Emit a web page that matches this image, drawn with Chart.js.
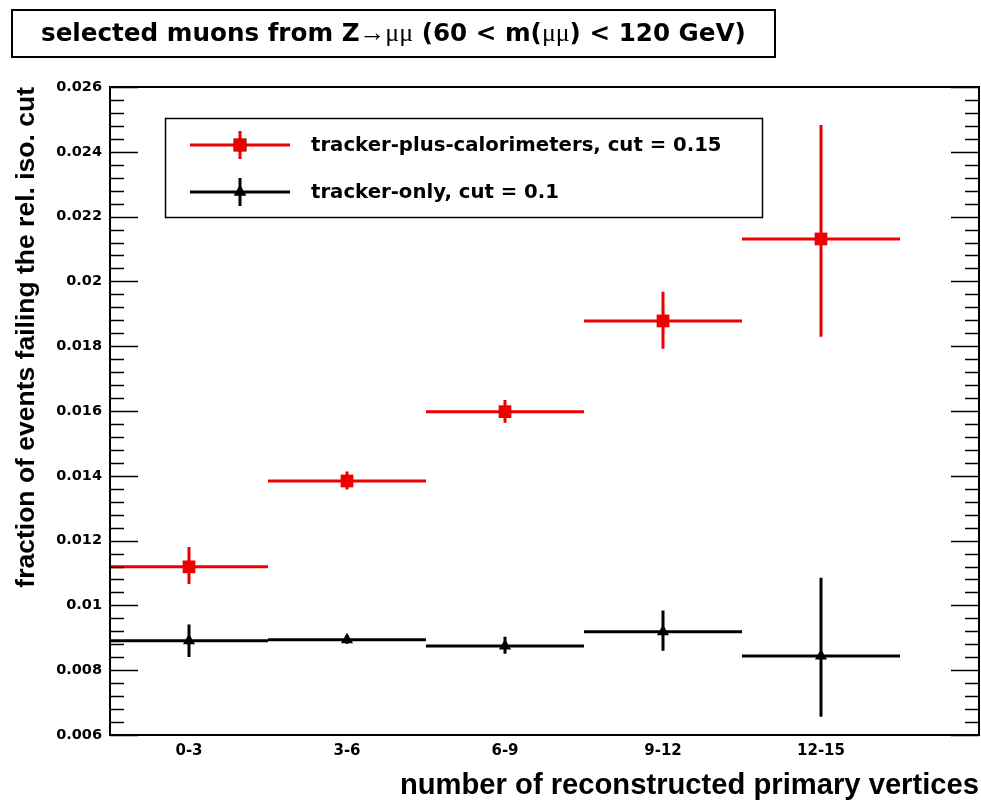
<!DOCTYPE html>
<html lang="en">
<head>
<meta charset="UTF-8">
<title>Muon isolation vs. number of primary vertices</title>
<script src="https://cdn.jsdelivr.net/npm/chart.js@4"></script>
<style>
  * { margin: 0; padding: 0; }
  html, body { background: #fff; width: 981px; height: 803px; overflow: hidden; }
  canvas { display: block; }
</style>
</head>
<body>
<!-- a few px wider than the window: Chart.js keeps a small right margin we don't want -->
<canvas id="isoChart" width="988" height="803"></canvas>
<script>
// vertex multiplicity bins
const binLabels = ['0-3', '3-6', '6-9', '9-12', '12-15'];

// tracker-plus-calorimeters, cut = 0.15 (binomial errors, asymmetric)
const caloFraction = [0.01119, 0.01384, 0.01598, 0.01878, 0.02131];
const caloErrUp = [0.00061, 0.00029, 0.00036, 0.00090, 0.00352];
const caloErrDown = [0.00053, 0.00026, 0.00034, 0.00086, 0.00302];

// tracker-only, cut = 0.1
const trackFraction = [0.00891, 0.00894, 0.00875, 0.00919, 0.00844];
const trackErrUp = [0.00050, 0.00012, 0.00028, 0.00065, 0.00241];
const trackErrDown = [0.00050, 0.00012, 0.00024, 0.00059, 0.00188];

// y axis: range, labelled step, minor subdivisions
const yMin = 0.006, yMax = 0.026, yStep = 0.002, yMinorDiv = 5;

const SANS = '"Liberation Sans", Arial, Helvetica, sans-serif';
const WIDE = '"DejaVu Sans", Verdana, sans-serif';
const SYMB = '"Liberation Serif", "DejaVu Serif", serif';

// title pieces: [text, greek/symbol font?]
const titleParts = [
  ['selected muons from Z', false],
  ['\u2192\u03bc\u03bc', true],
  [' (60 < m(', false],
  ['\u03bc\u03bc', true],
  [') < 120 GeV)', false]
];

function points(values) {
  return values.map((v, i) => ({ x: i + 0.5, y: v }));
}

// horizontal bar = bin width, vertical bar = stat. error
const errorBars = {
  id: 'errorBars',
  beforeDatasetsDraw(chart) {
    const { ctx, scales: { x, y } } = chart;
    chart.data.datasets.forEach(ds => {
      ctx.save();
      ctx.strokeStyle = ds.borderColor;
      ctx.lineWidth = 3;
      ctx.lineCap = 'butt';
      ds.data.forEach((p, i) => {
        const py = y.getPixelForValue(p.y);
        const px = x.getPixelForValue(p.x);
        ctx.beginPath();
        ctx.moveTo(x.getPixelForValue(p.x - 0.5), py);
        ctx.lineTo(x.getPixelForValue(p.x + 0.5), py);
        ctx.moveTo(px, y.getPixelForValue(p.y - ds.errDown[i]));
        ctx.lineTo(px, y.getPixelForValue(p.y + ds.errUp[i]));
        ctx.stroke();
      });
      ctx.restore();
    });
  }
};

// ROOT-style frame with inward ticks on both vertical sides
const frame = {
  id: 'frame',
  afterDatasetsDraw(chart) {
    const { ctx, chartArea: a, scales: { y } } = chart;
    ctx.save();
    ctx.strokeStyle = '#000';
    ctx.lineWidth = 2;
    ctx.strokeRect(a.left, a.top, a.right - a.left, a.bottom - a.top);
    ctx.lineWidth = 1.5;
    const n = Math.round((yMax - yMin) / yStep) * yMinorDiv;
    ctx.beginPath();
    for (let k = 0; k <= n; k++) {
      const py = Math.round(y.getPixelForValue(yMin + k * yStep / yMinorDiv)) + 0.5;
      const len = k % yMinorDiv === 0 ? 28 : 14;
      ctx.moveTo(a.left, py); ctx.lineTo(a.left + len, py);
      ctx.moveTo(a.right, py); ctx.lineTo(a.right - len, py);
    }
    ctx.stroke();
    ctx.restore();
  }
};

const titleBox = {
  id: 'titleBox',
  afterDraw(chart) {
    const ctx = chart.ctx;
    const box = { x: 12, y: 10, w: 763, h: 47 };
    const textWidth = 705;
    ctx.save();
    ctx.strokeStyle = '#000';
    ctx.lineWidth = 2;
    ctx.strokeRect(box.x, box.y, box.w, box.h);
    const measure = size => titleParts.reduce((w, [t, sym]) => {
      ctx.font = sym ? `${size * 1.05}px ${SYMB}` : `bold ${size}px ${WIDE}`;
      return w + ctx.measureText(t).width;
    }, 0);
    const size = 22 * textWidth / measure(22);
    let tx = box.x + (box.w - textWidth) / 2;
    const ty = box.y + box.h / 2 + 1;
    ctx.fillStyle = '#000';
    ctx.textBaseline = 'middle';
    ctx.textAlign = 'left';
    titleParts.forEach(([t, sym]) => {
      ctx.font = sym ? `${size * 1.05}px ${SYMB}` : `bold ${size}px ${WIDE}`;
      ctx.fillText(t, tx, ty);
      tx += ctx.measureText(t).width;
    });
    ctx.restore();
  }
};

// legend box in the upper-left corner of the frame
const legendBox = {
  id: 'legendBox',
  afterDraw(chart) {
    const ctx = chart.ctx;
    ctx.save();
    ctx.strokeStyle = '#000';
    ctx.lineWidth = 1.5;
    ctx.strokeRect(165.5, 118.5, 597, 99);
    chart.data.datasets.forEach((ds, i) => {
      const cy = 145 + i * 47;
      ctx.strokeStyle = ds.borderColor;
      ctx.lineWidth = 3;
      ctx.beginPath();
      ctx.moveTo(190, cy); ctx.lineTo(290, cy);
      ctx.moveTo(240, cy - 14); ctx.lineTo(240, cy + 14);
      ctx.stroke();
      Chart.helpers.drawPoint(ctx, {
        pointStyle: ds.pointStyle, radius: ds.pointRadius, rotation: 0, borderWidth: 0
      }, 240, cy);
      ctx.fillStyle = ds.backgroundColor;
      ctx.fill();
      ctx.fillStyle = '#000';
      ctx.font = `bold 19.7px ${WIDE}`;
      ctx.textBaseline = 'middle';
      ctx.fillText(ds.label, 311, cy + 1);
    });
    ctx.restore();
  }
};

new Chart(document.getElementById('isoChart'), {
  type: 'scatter',
  data: {
    datasets: [
      {
        label: 'tracker-plus-calorimeters, cut = 0.15',
        data: points(caloFraction),
        errUp: caloErrUp,
        errDown: caloErrDown,
        borderColor: '#ee0000',
        backgroundColor: '#ee0000',
        pointStyle: 'rect',
        pointRadius: 9,
        pointBorderWidth: 0
      },
      {
        label: 'tracker-only, cut = 0.1',
        data: points(trackFraction),
        errUp: trackErrUp,
        errDown: trackErrDown,
        borderColor: '#000000',
        backgroundColor: '#000000',
        pointStyle: 'triangle',
        pointRadius: 7,
        pointBorderWidth: 0
      }
    ]
  },
  options: {
    responsive: false,
    animation: false,
    devicePixelRatio: 1,
    layout: { padding: { top: 87, right: 2, left: 0, bottom: 0 } },
    plugins: { legend: { display: false }, tooltip: { enabled: false } },
    scales: {
      x: {
        type: 'linear',
        min: 0,
        max: 5.5,
        grid: { display: false, drawTicks: false },
        border: { display: false },
        afterBuildTicks: scale => {
          scale.ticks = binLabels.map((_, i) => ({ value: i + 0.5 }));
        },
        afterFit: scale => {
          scale.height = 68;
          scale.paddingLeft = 0;
          scale.paddingRight = 0;
        },
        ticks: {
          autoSkip: false,
          maxRotation: 0,
          padding: 7,
          color: '#000',
          font: { family: WIDE, size: 15, weight: 'bold' },
          callback: v => binLabels[Math.floor(v)]
        },
        title: {
          display: true,
          text: 'number of reconstructed primary vertices',
          align: 'end',
          color: '#000',
          font: { family: SANS, size: 29.2, weight: 'bold' },
          padding: { top: 1, bottom: 0 }
        }
      },
      y: {
        type: 'linear',
        min: yMin,
        max: yMax,
        grid: { display: false, drawTicks: false },
        border: { display: false },
        afterFit: scale => { scale.width = 110; },
        ticks: {
          stepSize: yStep,
          padding: 8,
          color: '#000',
          font: { family: WIDE, size: 14.5, weight: 'bold' },
          callback: v => String(+v.toFixed(3))
        },
        title: {
          display: true,
          text: 'fraction of events failing the rel. iso. cut',
          align: 'end',
          color: '#000',
          font: { family: SANS, size: 26.5, weight: 'bold' },
          padding: { top: 11, bottom: 0 }
        }
      }
    }
  },
  plugins: [errorBars, frame, titleBox, legendBox]
});
</script>
</body>
</html>
